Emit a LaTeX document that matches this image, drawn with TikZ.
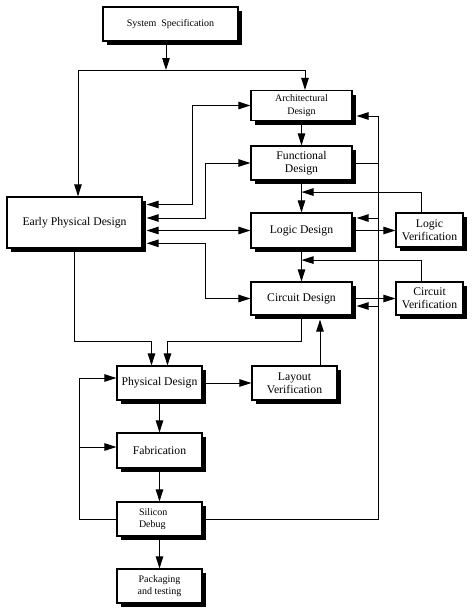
\documentclass[tikz,border=0pt]{standalone}
\usepackage{fontspec}
\setmainfont{Liberation Serif}
\usetikzlibrary{arrows.meta,shadows,calc}
\begin{document}
\begin{tikzpicture}[x=1pt,y=-1pt,line width=1pt,
    >={Triangle[length=12pt,width=7.5pt]},
    blk/.style={draw,line width=1.2pt,fill=white,align=center,inner sep=1pt,
      font=\fontsize{11.7}{12.7}\selectfont,
      drop shadow={shadow xshift=4pt,shadow yshift=-4pt,fill=black,opacity=1}},
    sml/.style={blk,font=\fontsize{10}{12.7}\selectfont},
    intoshadow/.style={shorten >=4pt}]
  \useasboundingbox (0,0) rectangle (474,614);
  \begin{scope}
    \node[sml,minimum width=135pt,minimum height=34pt] (spec) at (170.5,24) {System\ \ Specification};
    \node[sml,minimum width=101pt,minimum height=30pt] (arch) at (301.5,105.5) {Architectural\\Design};
    \node[blk,minimum width=101pt,minimum height=34pt] (func) at (301.5,163) {Functional\\Design};
    \node[blk,minimum width=101pt,minimum height=35pt] (logic) at (301.5,230.5) {Logic Design};
    \node[blk,minimum width=101pt,minimum height=33pt] (circ) at (301.5,298.5) {Circuit Design};
    \node[blk,minimum width=67pt,minimum height=34pt] (lver) at (429.5,230) {Logic\\Verification};
    \node[blk,minimum width=67pt,minimum height=33pt] (cver) at (429.5,298.5) {Circuit\\Verification};
    \node[blk,minimum width=135pt,minimum height=51pt] (epd) at (74.5,222.5) {Early Physical Design};
    \node[blk,minimum width=85pt,minimum height=34pt] (phys) at (159.5,383) {Physical Design};
    \node[blk,minimum width=85pt,minimum height=34pt] (lay) at (294.5,383) {Layout\\Verification};
    \node[blk,minimum width=85pt,minimum height=35pt] (fab) at (159.5,450.5) {Fabrication};
    \node[sml,text width=41pt,align=left,inner xsep=22pt,minimum height=34pt] (dbg) at (159.5,519) {Silicon\\Debug};
    \node[sml,minimum width=85pt,minimum height=34pt] (pack) at (159.5,586) {Packaging\\and testing};
  \end{scope}
  \coordinate (j0) at (166,70);
  \coordinate (fb1) at ($(func.south)!.36!(logic.north)$);
  \coordinate (fb2) at ($(logic.south)!.35!(circ.north)$);
  \coordinate (bus) at ($(dbg.east)+(176,0)$);
  \coordinate (loop) at ($(dbg.west)+(-37,0)$);
  \coordinate (logicin) at ([yshift=12.5pt]logic.east);
  \coordinate (circin) at ([yshift=-7.5pt]circ.east);
  \coordinate (layup) at ([xshift=25.5pt]lay.north);
  \coordinate (fabin) at ([yshift=3.5pt]fab.west);
  \draw[->] (spec.south -| j0) -- (j0);
  \draw[->] (j0) -| ([xshift=3.5pt]arch.north);
  \draw[->] (j0) -| ([xshift=3.5pt]epd.north);
  \draw[<->,shorten <=4pt] ([yshift=18pt]epd.east) -- ++(50,0) |- (arch.west);
  \draw[<->,shorten <=4pt] ([yshift=4.5pt]epd.east) -- ++(63,0) |- (func.west);
  \draw[<->,shorten <=4pt] (epd.east |- logic.west) -- (logic.west);
  \draw[<->,shorten <=4pt] ([yshift=-20.8pt]epd.east) -- ++(63,0) |- (circ.west);
  \draw[->] (arch) -- (func);
  \draw[->] (func) -- (logic);
  \draw[->] (logic) -- (circ);
  \draw[->] ([xshift=-8.5pt]lver.north) |- (fb1);
  \draw[->] ([xshift=-8.5pt]cver.north) |- (fb2);
  \draw[->] (logic.east) -- (logic.east -| lver.west);
  \draw[->] (circ.east) -- (circ.east -| cver.west);
  \draw[->,intoshadow] (dbg.east) -- (bus) |- ([yshift=-10.5pt]arch.east);
  \draw (func.east) -- (func.east -| bus);
  \draw[->,intoshadow] (logicin -| bus) -- (logicin);
  \draw[->,intoshadow] (circin -| bus) -- (circin);
  \draw[->] (epd.south) -- ++(0,93) -| ([xshift=-8pt]phys.north);
  \draw[->] (circ.south) -- ++(0,26) -| ([xshift=8pt]phys.north);
  \draw[->,intoshadow] (layup) -- (layup |- circ.south);
  \draw[->] (phys.east) -- (lay.west);
  \draw[->] (phys) -- (fab);
  \draw[->] (fab) -- (dbg);
  \draw[->] (dbg) -- (pack);
  \draw[->] (dbg.west) -- (loop) |- ([yshift=5pt]phys.west);
  \draw[->] (fabin -| loop) -- (fabin);
\end{tikzpicture}
\end{document}
